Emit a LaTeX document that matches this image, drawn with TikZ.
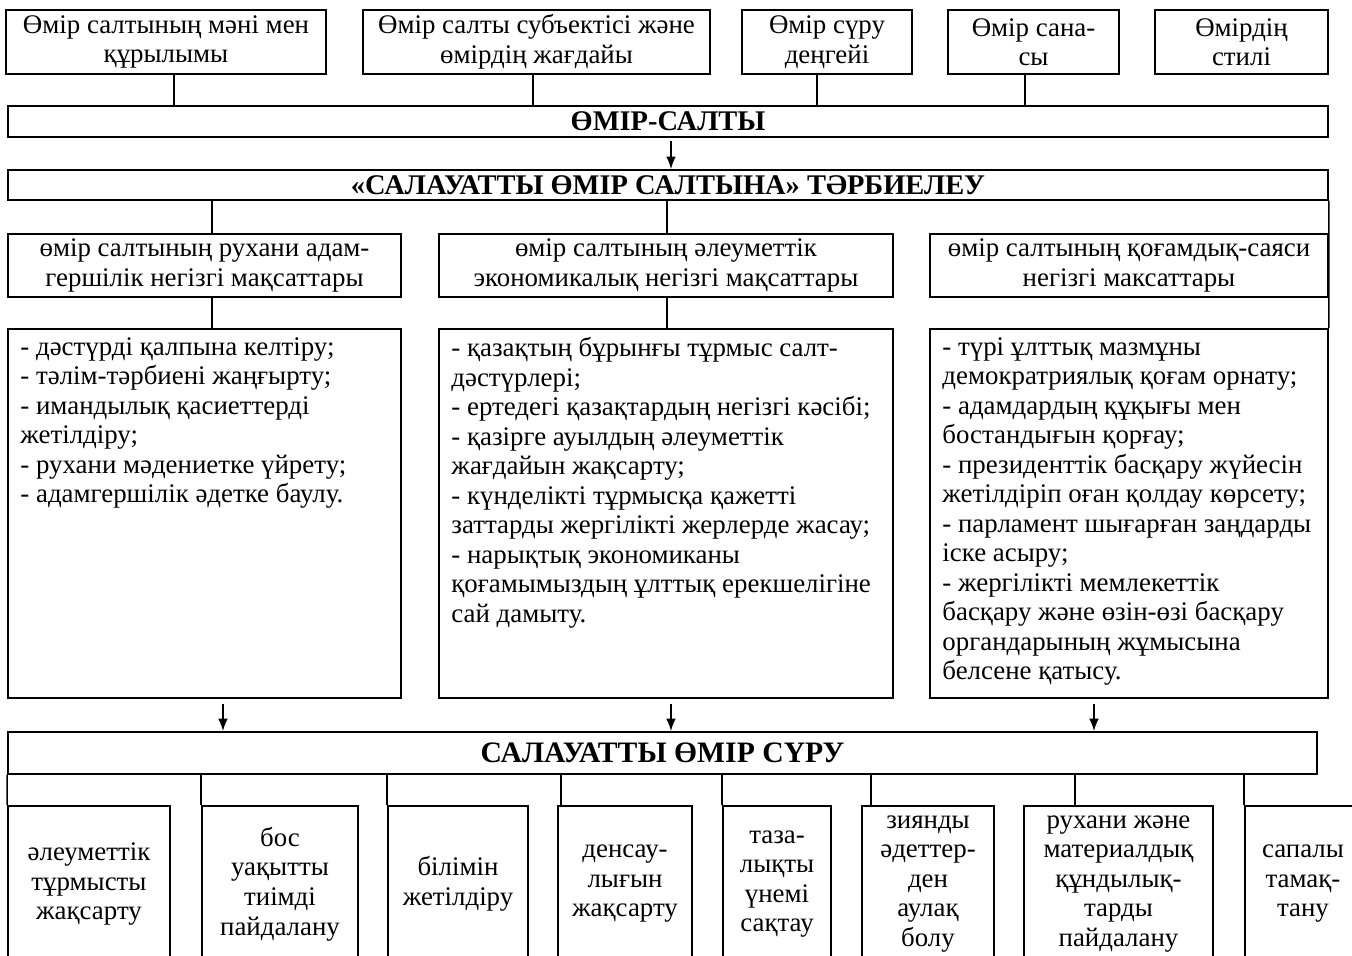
\documentclass[tikz,border=0pt]{standalone}
\usepackage{fontspec}
\setmainfont{Liberation Serif}
\usepackage{tikz}
\usetikzlibrary{arrows.meta,positioning}

\begin{document}
\begin{tikzpicture}[
    x=0.02cm,y=-0.02cm,
    font=\fontsize{15.3}{16.8}\selectfont,
    box/.style={rectangle,draw,line width=1.1pt,inner sep=0pt,align=center},
    head/.style={box,font=\fontsize{16.2}{17}\selectfont\bfseries},
    listtext/.style={anchor=north west,align=left,inner sep=0pt},
    link/.style={line width=0.9pt},
    arrow/.style={-{Latex[length=7pt,width=5.5pt]},line width=0.9pt}
]
    \useasboundingbox (0,0) rectangle (1352,956);

    % Top row: sides of the way of life
    \node[box,minimum width=6.4cm,minimum height=1.28cm] (mani) at (166,42) {Өмір салтының мәні мен\\құрылымы};
    \node[box,minimum width=6.94cm,minimum height=1.28cm] (subekt) at (536.5,42) {Өмір салты субъектісі және\\өмірдің жағдайы};
    \node[box,minimum width=3.4cm,minimum height=1.28cm] (deng) at (827,42) {Өмір сүру\\деңгейі};
    \node[box,minimum width=3.42cm,minimum height=1.28cm] (sana) at (1033.5,42) {Өмір сана-\\сы};
    \node[box,minimum width=3.46cm,minimum height=1.28cm] (stil) at (1241.5,42) {Өмірдің\\стилі};

    % Way of life
    \node[head,minimum width=26.4cm,minimum height=0.62cm] (salt) at (668,121.5) {ӨМІР-САЛТЫ};
    \draw[link] (mani.south -| 174,0) -- (salt.north -| 174,0);
    \draw[link] (subekt.south -| 533,0) -- (salt.north -| 533,0);
    \draw[link] (deng.south -| 817,0) -- (salt.north -| 817,0);
    \draw[link] (sana.south -| 1025,0) -- (salt.north -| 1025,0);

    % Upbringing
    \node[head,minimum width=26.4cm,minimum height=0.6cm] (tarbie) at (668,185) {«САЛАУАТТЫ ӨМІР САЛТЫНА» ТӘРБИЕЛЕУ};
    \draw[arrow,shorten <=2pt] (salt.south -| 671,0) -- (tarbie.north -| 671,0);

    % Main goals
    \node[box,minimum width=7.86cm,minimum height=1.26cm] (goal1) at (204.5,265.5) {өмір салтының рухани адам-\\гершілік негізгі мақсаттары};
    \node[box,minimum width=9.08cm,minimum height=1.26cm] (goal2) at (666,265.5) {өмір салтының әлеуметтік\\экономикалық негізгі мақсаттары};
    \node[box,minimum width=7.96cm,minimum height=1.26cm] (goal3) at (1129,265.5) {өмір салтының қоғамдық-саяси\\негізгі максаттары};
    \draw[link] (tarbie.south -| 212,0) -- (goal1.north -| 212,0);
    \draw[link] (tarbie.south -| 667,0) -- (goal2.north -| 667,0);

    % Contents of the goals
    \node[box,minimum width=7.86cm,minimum height=7.38cm] (cont1) at (204.5,513.5) {};
    \node[box,minimum width=9.08cm,minimum height=7.38cm] (cont2) at (666,513.5) {};
    \node[box,minimum width=7.96cm,minimum height=7.38cm] (cont3) at (1129,513.5) {};
    \draw[link] (goal1.south -| 212,0) -- (cont1.north -| 212,0);
    \draw[link] (goal2.south -| 667,0) -- (cont2.north -| 667,0);
    \draw[link] (tarbie.south east) -- (cont3.north east);

    \node[listtext] (cont1txt) at ([xshift=0.26cm,yshift=-0.18cm]cont1.north west) {%
        - дәстүрді қалпына келтіру;\\
        - тәлім-тәрбиені жаңғырту;\\
        - имандылық қасиеттерді\\
        жетілдіру;\\
        - рухани мәдениетке үйрету;\\
        - адамгершілік әдетке баулу.};
    \node[listtext] (cont2txt) at ([xshift=0.26cm,yshift=-0.18cm]cont2.north west) {%
        - қазақтың бұрынғы тұрмыс салт-\\
        дәстүрлері;\\
        - ертедегі қазақтардың негізгі кәсібі;\\
        - қазірге ауылдың әлеуметтік\\
        жағдайын жақсарту;\\
        - күнделікті тұрмысқа қажетті\\
        заттарды жергілікті жерлерде жасау;\\
        - нарықтық экономиканы\\
        қоғамымыздың ұлттық ерекшелігіне\\
        сай дамыту.};
    \node[listtext] (cont3txt) at ([xshift=0.26cm,yshift=-0.18cm]cont3.north west) {%
        - түрі ұлттық мазмұны\\
        демократриялық қоғам орнату;\\
        - адамдардың құқығы мен\\
        бостандығын қорғау;\\
        - президенттік басқару жүйесін\\
        жетілдіріп оған қолдау көрсету;\\
        - парламент шығарған заңдарды\\
        іске асыру;\\
        - жергілікті мемлекеттік\\
        басқару және өзін-өзі басқару\\
        органдарының жұмысына\\
        белсене қатысу.};

    % Healthy life
    \node[box,minimum width=26.18cm,minimum height=0.84cm,font=\fontsize{16.9}{19}\selectfont\bfseries] (saw) at (662.5,753) {САЛАУАТТЫ ӨМІР СҮРУ};
    \draw[arrow,shorten <=3pt] (cont1.south -| 223,0) -- (saw.north -| 223,0);
    \draw[arrow,shorten <=3pt] (cont2.south -| 671,0) -- (saw.north -| 671,0);
    \draw[arrow,shorten <=3pt] (cont3.south -| 1094,0) -- (saw.north -| 1094,0);

    % Ways of healthy life (bottom edges run off the page)
    \node[box,minimum width=3.24cm,minimum height=3.12cm] (bot1) at (89,884) {әлеуметтік\\тұрмысты\\жақсарту};
    \node[box,minimum width=3.12cm,minimum height=3.12cm] (bot2) at (280,884) {бос\\уақытты\\тиімді\\пайдалану};
    \node[box,minimum width=2.8cm,minimum height=3.12cm] (bot3) at (458,884) {білімін\\жетілдіру};
    \node[box,minimum width=2.68cm,minimum height=3.12cm] (bot4) at (625,884) {денсау-\\лығын\\жақсарту};
    \node[box,minimum width=2.16cm,minimum height=3.12cm] (bot5) at (777,884) {таза-\\лықты\\үнемі\\сақтау};
    \node[box,minimum width=2.64cm,minimum height=3.12cm] (bot6) at (928,884) {зиянды\\әдеттер-\\ден\\аулақ\\болу};
    \node[box,minimum width=3.78cm,minimum height=3.12cm] (bot7) at (1118.5,884) {рухани және\\материалдық\\құндылық-\\тарды\\пайдалану};
    \node[box,minimum width=2.32cm,minimum height=3.12cm] (bot8) at (1303,884) {сапалы\\тамақ-\\тану};

    \draw[link] (saw.south west) -- (bot1.north west);
    \draw[link] (saw.south -| bot2.north west) -- (bot2.north west);
    \draw[link] (saw.south -| bot3.north west) -- (bot3.north west);
    \draw[link] (saw.south -| 561,0) -- (bot4.north -| 561,0);
    \draw[link] (saw.south -| bot5.north west) -- (bot5.north west);
    \draw[link] (saw.south -| 871,0) -- (bot6.north -| 871,0);
    \draw[link] (saw.south -| 1075,0) -- (bot7.north -| 1075,0);
    \draw[link] (saw.south -| bot8.north west) -- (bot8.north west);
\end{tikzpicture}
\end{document}
